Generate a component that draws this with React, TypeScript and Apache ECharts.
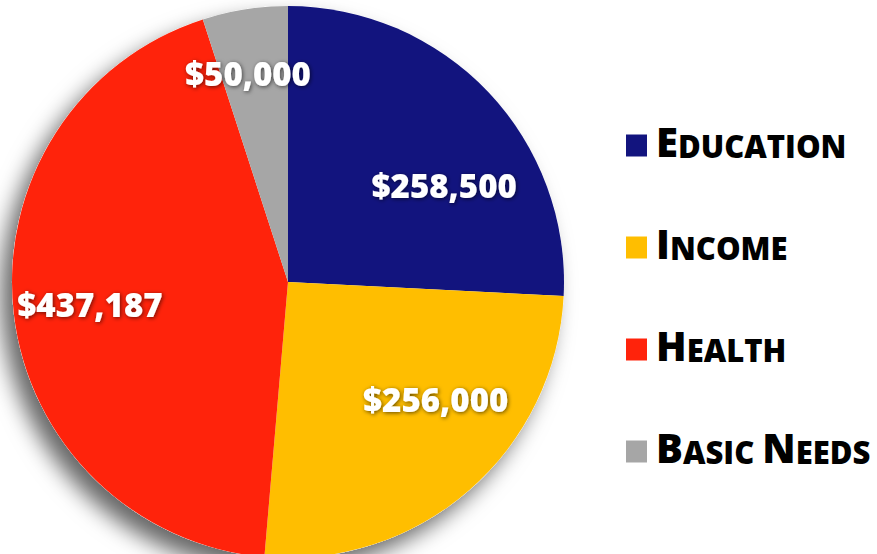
import React, { useEffect, useRef } from "react";
import * as echarts from "echarts";

const categories = ["Education", "Income", "Health", "Basic Needs"];
const values = [258500, 256000, 437187, 50000];
const colors = ["#12147e", "#ffbe00", "#ff230b", "#a6a6a6"];
const legendLabels = [
  "{a|E}{b|DUCATION}",
  "{a|I}{b|NCOME}",
  "{a|H}{b|EALTH}",
  "{a|B}{b|ASIC }{a|N}{b|EEDS}",
];
const labelOffsets = [
  [54, 1],
  [55, 11],
  [-58, 6],
  [-18, -69],
];

const FONT = "'Open Sans', 'DejaVu Sans', sans-serif";

export default function App() {
  const ref = useRef<HTMLDivElement>(null);
  useEffect(() => {
    if (!ref.current) return;
    const chart = echarts.init(ref.current, undefined, { renderer: "svg" });
    const fmt = (v: number) => "$" + v.toLocaleString("en-US");
    chart.setOption({
      animation: false,
      backgroundColor: "#ffffff",
      legend: {
        orient: "vertical",
        left: 621,
        top: 116,
        icon: "rect",
        itemWidth: 21,
        itemHeight: 22,
        itemGap: 62,
        selectedMode: false,
        data: categories,
        formatter: (name: string) => legendLabels[categories.indexOf(name)],
        textStyle: {
          color: "#000",
          fontFamily: FONT,
          fontWeight: 800,
          padding: [0, 0, 0, 4],
          rich: {
            a: {
              fontSize: 40,
              fontWeight: 800,
              fontFamily: FONT,
              color: "#000",
              verticalAlign: "bottom",
              lineHeight: 31,
            },
            b: {
              fontSize: 31,
              fontWeight: 800,
              fontFamily: FONT,
              color: "#000",
              verticalAlign: "bottom",
              lineHeight: 31,
            },
          },
        },
      },
      series: [
        {
          type: "pie",
          z: 1,
          silent: true,
          center: [288, 282],
          radius: 276,
          label: { show: false },
          labelLine: { show: false },
          data: [
            {
              value: 1,
              name: "",
              itemStyle: {
                color: "#ffffff",
                shadowBlur: 22,
                shadowColor: "rgba(0,0,0,0.6)",
                shadowOffsetX: -11,
                shadowOffsetY: 13,
              },
            },
          ],
        },
        {
          type: "pie",
          z: 2,
          center: [288, 282],
          radius: 276,
          startAngle: 90,
          clockwise: true,
          avoidLabelOverlap: false,
          labelLine: { show: false },
          label: {
            show: true,
            position: "inside",
            color: "#ffffff",
            fontFamily: FONT,
            fontWeight: 800,
            fontSize: 33,
            textShadowColor: "rgba(0,0,0,0.6)",
            textShadowBlur: 4,
            textShadowOffsetX: 1,
            textShadowOffsetY: 1,
            formatter: (p: any) => fmt(p.value),
          },
          data: categories.map((name, i) => ({
            name,
            value: values[i],
            itemStyle: { color: colors[i] },
            label: { offset: labelOffsets[i] },
          })),
        },
      ],
    });
    return () => chart.dispose();
  }, []);
  return (
    <div
      ref={ref}
      style={{ position: "absolute", left: 0, top: 0, width: 877, height: 554 }}
    />
  );
}
